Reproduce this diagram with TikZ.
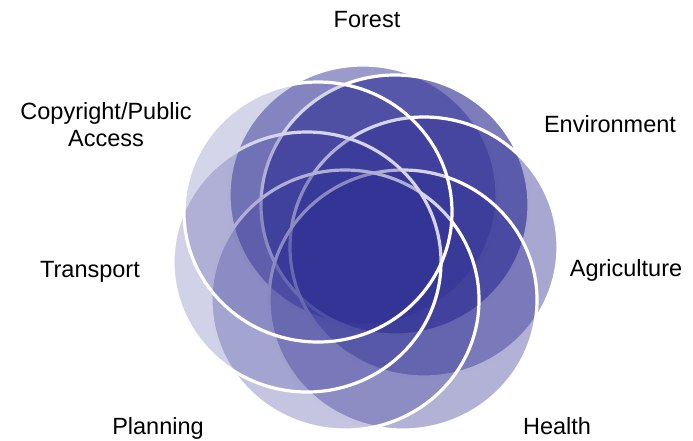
\documentclass[tikz,border=0pt]{standalone}
\usepackage{fontspec}
\setmainfont{Liberation Sans}
\definecolor{vennblue}{RGB}{45,45,147}
\tikzset{
  petal/.style={fill=vennblue, draw=white, line width=3.2pt},
  topic/.style={font=\fontsize{23.5}{27}\selectfont, align=center, inner sep=0pt}
}
\begin{document}
\begin{tikzpicture}[x=1pt, y=-1pt]
  \useasboundingbox (0,0) rectangle (693,440);

  % The seven overlapping discs, drawn in order. A later disc
  % fades the white rim of an earlier one where they overlap.
  \path [petal, fill opacity=0.48] (363,195) ellipse [x radius=134, y radius=130];
  \path [petal, fill opacity=0.62] (395,205) ellipse [x radius=134, y radius=130];
  \path [petal, fill opacity=0.42] (424,247) ellipse [x radius=134, y radius=130];
  \path [petal, fill opacity=0.37] (403,300) ellipse [x radius=134, y radius=130];
  \path [petal, fill opacity=0.28] (345,300) ellipse [x radius=134, y radius=130];
  \path [petal, fill opacity=0.22] (307,262) ellipse [x radius=134, y radius=130];
  \path [petal, fill opacity=0.20] (318,212) ellipse [x radius=134, y radius=130];

  % The topic labels round the discs.
  \node [topic] (forest)      at (367,20)  {Forest};
  \node [topic] (environment) at (610,124) {Environment};
  \node [topic] (agriculture) at (626,270) {Agriculture};
  \node [topic] (health)      at (557,426) {Health};
  \node [topic] (planning)    at (158,428) {Planning};
  \node [topic] (transport)   at (90,272)  {Transport};
  \node [topic] (copyright)   at (106,125) {Copyright/Public\\Access};
\end{tikzpicture}
\end{document}
